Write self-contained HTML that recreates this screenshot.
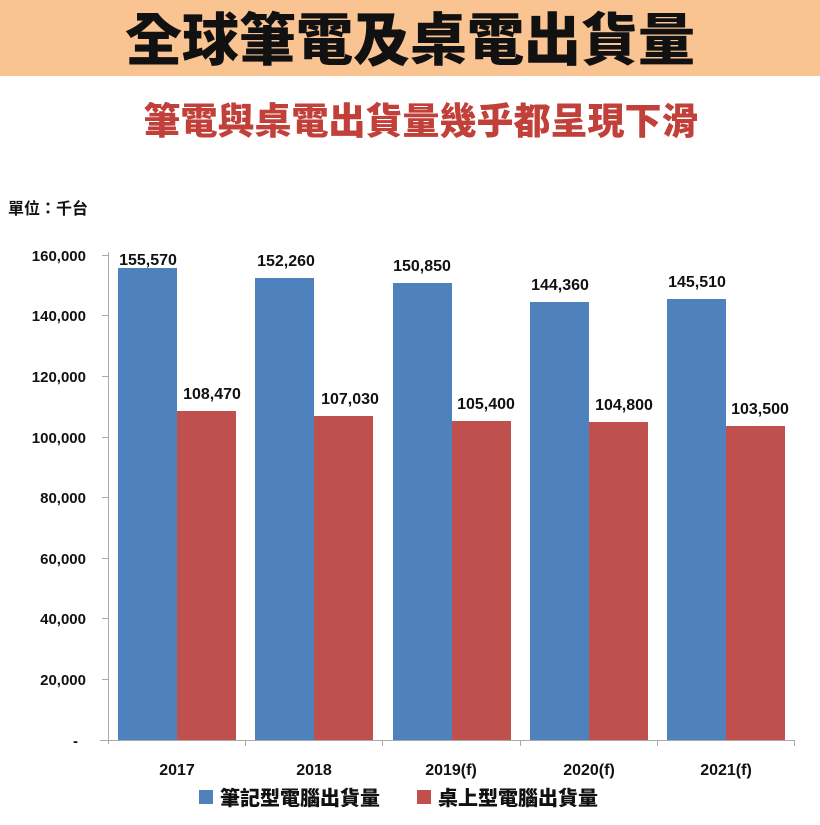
<!DOCTYPE html>
<html><head><meta charset="utf-8"><style>
body{margin:0;width:820px;height:820px;background:#fff;overflow:hidden;font-family:"Liberation Sans","Noto Sans CJK TC",sans-serif;}
</style></head><body>
<svg width="820" height="820" xmlns="http://www.w3.org/2000/svg" font-family="Liberation Sans, Noto Sans CJK TC, sans-serif">
<rect x="0" y="0" width="820" height="76" fill="#f9c392"/>
<text x="410" y="60" text-anchor="middle" font-size="57" font-weight="900" fill="#111" font-family="Noto Sans CJK TC, sans-serif">全球筆電及桌電出貨量</text>
<text x="421" y="134" text-anchor="middle" font-size="37" font-weight="900" fill="#c1403a" font-family="Noto Sans CJK TC, sans-serif">筆電與桌電出貨量幾乎都呈現下滑</text>
<text x="8" y="214" font-size="16" font-weight="700" fill="#111" font-family="Noto Sans CJK TC, sans-serif">單位：千台</text>
<g font-size="15" font-weight="700" fill="#111" text-anchor="end">
<text x="86" y="261">160,000</text>
<text x="86" y="321">140,000</text>
<text x="86" y="382">120,000</text>
<text x="86" y="443">100,000</text>
<text x="86" y="503">80,000</text>
<text x="86" y="564">60,000</text>
<text x="86" y="624">40,000</text>
<text x="86" y="685">20,000</text>
<text x="78" y="746">-</text>
</g>
<line x1="108.5" y1="252" x2="108.5" y2="744" stroke="#aaa"/>
<g stroke="#aaa">
<line x1="102" y1="255.5" x2="108" y2="255.5"/><line x1="102" y1="315.5" x2="108" y2="315.5"/><line x1="102" y1="376.5" x2="108" y2="376.5"/><line x1="102" y1="437.5" x2="108" y2="437.5"/><line x1="102" y1="497.5" x2="108" y2="497.5"/><line x1="102" y1="558.5" x2="108" y2="558.5"/><line x1="102" y1="618.5" x2="108" y2="618.5"/><line x1="102" y1="679.5" x2="108" y2="679.5"/>
<line x1="100" y1="740.5" x2="795" y2="740.5"/>
<line x1="245.5" y1="740" x2="245.5" y2="746"/><line x1="382.5" y1="740" x2="382.5" y2="746"/><line x1="520.5" y1="740" x2="520.5" y2="746"/><line x1="657.5" y1="740" x2="657.5" y2="746"/><line x1="794.5" y1="740" x2="794.5" y2="746"/>
</g>
<g fill="#4f81bd">
<rect x="118" y="268" width="59" height="472"/>
<rect x="255" y="278" width="59" height="462"/>
<rect x="393" y="283" width="59" height="457"/>
<rect x="530" y="302" width="59" height="438"/>
<rect x="667" y="299" width="59" height="441"/>
</g>
<g fill="#c0504d">
<rect x="177" y="411" width="59" height="329"/>
<rect x="314" y="416" width="59" height="324"/>
<rect x="452" y="421" width="59" height="319"/>
<rect x="589" y="422" width="59" height="318"/>
<rect x="726" y="426" width="59" height="314"/>
</g>
<g font-size="16" font-weight="700" fill="#111" text-anchor="middle">
<text x="148" y="265">155,570</text>
<text x="286" y="266">152,260</text>
<text x="422" y="271">150,850</text>
<text x="560" y="290">144,360</text>
<text x="697" y="287">145,510</text>
<text x="212" y="399">108,470</text>
<text x="350" y="404">107,030</text>
<text x="486" y="409">105,400</text>
<text x="624" y="410">104,800</text>
<text x="760" y="414">103,500</text>
<text x="177" y="775">2017</text>
<text x="314" y="775">2018</text>
<text x="451" y="775">2019(f)</text>
<text x="589" y="775">2020(f)</text>
<text x="726" y="775">2021(f)</text>
</g>
<rect x="199" y="790" width="14" height="14" fill="#4f81bd"/>
<text x="220" y="805" font-size="20" font-weight="900" fill="#111" font-family="Noto Sans CJK TC, sans-serif">筆記型電腦出貨量</text>
<rect x="417" y="790" width="14" height="14" fill="#c0504d"/>
<text x="438" y="805" font-size="20" font-weight="900" fill="#111" font-family="Noto Sans CJK TC, sans-serif">桌上型電腦出貨量</text>
</svg>
</body></html>
